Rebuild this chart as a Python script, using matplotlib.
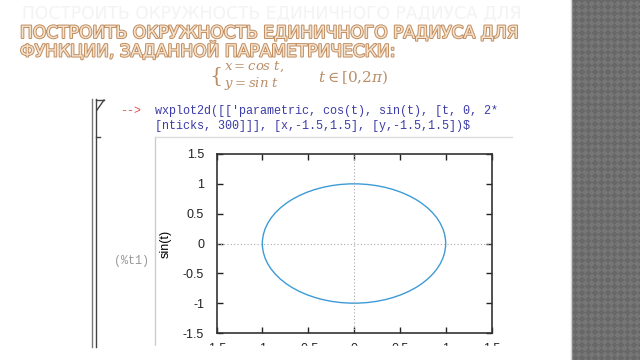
import matplotlib
matplotlib.use("Agg")
import matplotlib.pyplot as plt
import matplotlib.patheffects as pe
from matplotlib.patches import Circle, Rectangle
from matplotlib.lines import Line2D
import numpy as np

# chart data
x_range = (-1.5, 1.5)
y_range = (-1.5, 1.5)
tick_values = [-1.5, -1, -0.5, 0, 0.5, 1, 1.5]
tick_labels = ["-1.5", "-1", "-0.5", "0", "0.5", "1", "1.5"]
circle_center = (0.0, 0.0)
circle_radius = 1.0
y_label = "sin(t)"

title_lines = ["ПОСТРОИТЬ ОКРУЖНОСТЬ ЕДИНИЧНОГО РАДИУСА ДЛЯ",
               "ФУНКЦИИ, ЗАДАННОЙ ПАРАМЕТРИЧЕСКИ:"]
code_lines = ["wxplot2d([['parametric, cos(t), sin(t), [t, 0, 2*",
              "[nticks, 300]]], [x,-1.5,1.5], [y,-1.5,1.5])$"]

W, H = 640, 360
fig = plt.figure(figsize=(6.4, 3.6), dpi=100)
fig.patch.set_facecolor("white")


def fx(px):
    return px / W


def fy(py):
    return 1 - py / H


# right decorative stripe with diamond pattern
pat = fig.add_axes([fx(572), 0, 1 - fx(572), 1])
xx, yy = np.meshgrid(np.arange(68), np.arange(360))
p = 6.5
cells = ((np.floor((xx + yy) / p) + np.floor((xx - yy) / p)) % 2)
pat.imshow(cells, cmap=matplotlib.colors.ListedColormap(["#686868", "#767676"]),
           aspect="auto", interpolation="bilinear")
pat.set_axis_off()
fig.add_artist(Line2D([fx(571), fx(571)], [0, 1], color="#d5d5d5", lw=1))

# slide title (ghost + main)
tfont = dict(family="DejaVu Sans", fontsize=12.3)
fig.text(fx(22), fy(13), title_lines[0], color="#f3f3f3", va="center", **tfont)
for i, line in enumerate(title_lines):
    fig.text(fx(20), fy(33 + 18 * i), line, color="#f5e2cc", va="center",
             path_effects=[pe.withStroke(linewidth=1.4, foreground="#c08c5e")],
             **tfont)

# parametric formula
fcol = "#b98e68"
fig.text(fx(209), fy(76), "{", fontsize=15, color=fcol, va="center",
         family="DejaVu Serif", fontweight="light")
fig.text(fx(224), fy(67), r"$x = cos\ t,$", fontsize=9.5, color=fcol, va="center",
         math_fontfamily="dejavuserif")
fig.text(fx(224), fy(84), r"$y = sin\ t$", fontsize=9.5, color=fcol, va="center",
         math_fontfamily="dejavuserif")
fig.text(fx(318), fy(77), r"$t \in [0{,}2\pi)$", fontsize=11, color=fcol,
         va="center", math_fontfamily="dejavuserif")

# wxMaxima cell decorations
dark = "#444444"
fig.add_artist(Line2D([fx(96), fx(96)], [fy(99), fy(347)], color=dark, lw=1))
fig.add_artist(Line2D([fx(96), fx(104)], [fy(100), fy(100)], color=dark, lw=1))
fig.add_artist(Line2D([fx(104), fx(97)], [fy(100), fy(110)], color=dark, lw=1))
fig.add_artist(Line2D([fx(96), fx(100)], [fy(137), fy(137)], color=dark, lw=1))
fig.add_artist(Line2D([fx(155), fx(155)], [fy(137), fy(347)], color="#cccccc", lw=1))
fig.add_artist(Line2D([fx(155), fx(512)], [fy(137), fy(137)], color="#dddddd", lw=1))

mono = "Liberation Mono"
fig.text(fx(120), fy(111), "-->", color="#d9534f", family=mono, fontsize=8.5,
         va="center")
for i, line in enumerate(code_lines):
    fig.text(fx(155), fy(111 + 15 * i), line, color="#3b3ba8", family=mono,
             fontsize=8.5, va="center")
fig.text(fx(114), fy(261), "(%t1)", color="#999999", family=mono, fontsize=8.5,
         va="center")

# the plot
ax = fig.add_axes([fx(216.5), fy(333), fx(491.5) - fx(216.5), fy(154) - fy(333)])
ax.add_patch(Circle(circle_center, circle_radius, fill=False,
                    edgecolor="#3d9bd6", lw=1.0))
ax.set_xlim(*x_range)
ax.set_ylim(*y_range)
ax.set_xticks(tick_values)
ax.set_xticklabels(tick_labels)
ax.set_yticks(tick_values)
ax.set_yticklabels(tick_labels)
ax.axhline(0, color="#aaaaaa", lw=0.8, ls=(0, (1, 2)))
ax.axvline(0, color="#aaaaaa", lw=0.8, ls=(0, (1, 2)))
ax.tick_params(direction="in", length=4, width=1, top=True, right=True,
               labelsize=9, colors="#222222")
ax.tick_params(axis="y", pad=9)
ax.tick_params(axis="x", pad=7)
for lab in ax.get_xticklabels() + ax.get_yticklabels():
    lab.set_family("Liberation Sans")
for s in ax.spines.values():
    s.set_color("#333333")
    s.set_linewidth(1.2)
ax.set_ylabel(y_label, family="Liberation Sans", fontsize=9, labelpad=8)

# screenshot is cut below the plot
fig.add_artist(Rectangle((fx(150), 0), fx(525) - fx(150), fy(346), color="white",
                         zorder=10, transform=fig.transFigure))
fig.add_artist(Line2D([fx(92), fx(92)], [fy(99), fy(347)], color="#777777", lw=1,
                      zorder=11))

fig.savefig("out.png", dpi=100)
